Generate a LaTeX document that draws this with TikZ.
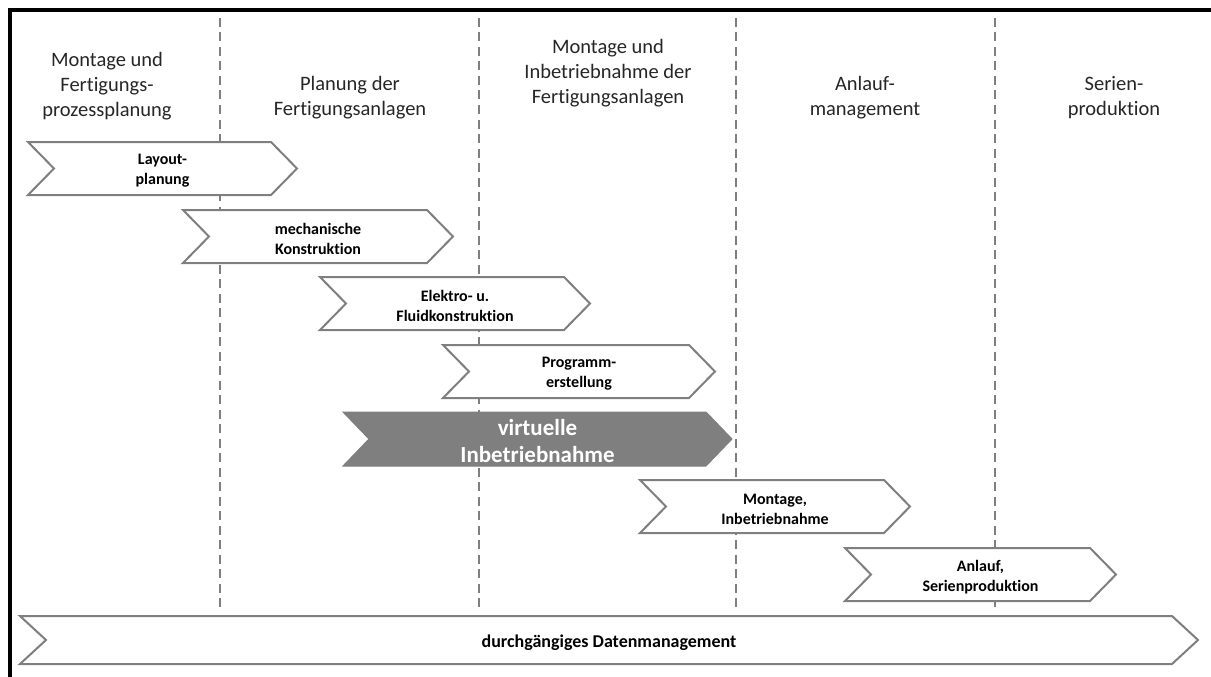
\documentclass[tikz,border=0pt]{standalone}
\usepackage{fontspec}
\setmainfont{Carlito}[Ligatures=NoCommon]
\definecolor{lgray}{HTML}{7F7F7F}
\definecolor{txt}{HTML}{262626}
\newcommand\mychev[7]{%
  \path[#7] (#2,#3) -- ({#4-26},#3) -- (#4,{(#3+#5)/2}) -- ({#4-26},#5) -- (#2,#5) -- ({#2+26},{(#3+#5)/2}) -- cycle;
  \node[chevtext] (#1) at ({(#2+#4)/2},{(#3+#5)/2+2.5}) {#6};}
\tikzset{
  chevbox/.style={draw=lgray, line width=2pt, fill=white, line join=miter},
  chevdark/.style={draw=lgray, line width=1pt, fill=lgray},
  chevtext/.style={align=center, font=\bfseries\fontsize{16}{20}\selectfont, text=black, inner sep=0pt},
  head/.style={align=center, font=\fontsize{20.5}{25}\selectfont, text=txt, inner sep=0pt},
  sep/.style={draw=lgray, line width=2pt, dash pattern=on 9pt off 5.5pt},
  frame/.style={draw=black, line width=4pt}
}
\begin{document}
\begin{tikzpicture}[x=1pt,y=-1pt]
\useasboundingbox (0,0) rectangle (1211,677);
% frame
\coordinate (fbl) at (10,677);
\coordinate (ftl) at (10,10);
\coordinate (ftr) at (1211,10);
\draw[frame] (fbl) -- (ftl) -- (ftr);
% column separators
\foreach \x [count=\i] in {220,479,736,995}{
  \coordinate (s\i t) at (\x,18);
  \coordinate (s\i b) at (\x,612);
  \draw[sep] (s\i t) -- (s\i b);
}
% headers
\node[head] (h1) at (107,86) {Montage und\\Fertigungs-\\prozessplanung};
\node[head] (h2) at (350,98) {Planung der\\Fertigungsanlagen};
\node[head] (h3) at (608,73) {Montage und\\Inbetriebnahme der\\Fertigungsanlagen};
\node[head] (h4) at (865,98) {Anlauf-\\management};
\node[head] (h5) at (1114,98) {Serien-\\produktion};
% chevrons
\mychev{c1}{28}{142}{297}{195}{Layout-\\planung}{chevbox}
\mychev{c2}{183}{210}{453}{263}{mechanische\\Konstruktion}{chevbox}
\mychev{c3}{320}{277}{590}{330}{Elektro- u.\\Fluidkonstruktion}{chevbox}
\mychev{c4}{443}{345}{715}{398}{Programm-\\erstellung}{chevbox}
\mychev{c5}{343}{412}{732}{466}{}{chevdark}
\node[align=center, font=\bfseries\fontsize{23}{27}\selectfont, text=white, inner sep=0pt] (vib) at (537.5,441) {virtuelle\\Inbetriebnahme};
\mychev{c6}{640}{480}{910}{533}{Montage,\\Inbetriebnahme}{chevbox}
\mychev{c7}{845}{548}{1116}{601}{Anlauf,\\Serienproduktion}{chevbox}
\mychev{c8}{20}{616}{1198}{664}{\fontsize{18}{22}\selectfont durchgängiges Datenmanagement}{chevbox}
\end{tikzpicture}
\end{document}
